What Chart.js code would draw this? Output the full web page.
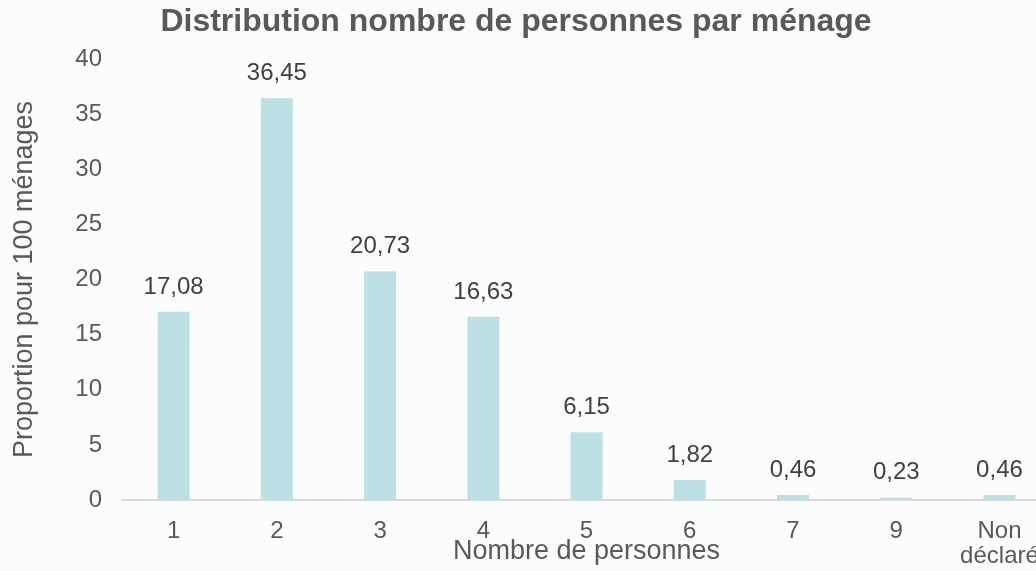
<!DOCTYPE html>
<html lang="fr">
<head>
<meta charset="utf-8">
<title>Distribution nombre de personnes par ménage</title>
<script src="https://cdn.jsdelivr.net/npm/chart.js@4/dist/chart.umd.min.js"></script>
<style>
  html, body { margin: 0; padding: 0; background: #fbfcfe; }
  #wrap { width: 1036px; height: 571px; overflow: hidden; position: relative; }
  #chart { display: block; }
</style>
</head>
<body>
<div id="wrap">
  <canvas id="chart" width="1058" height="571"></canvas>
</div>
<script>
// Data
const chartTitle = 'Distribution nombre de personnes par ménage';
const categories = ['1', '2', '3', '4', '5', '6', '7', '9', ['Non', 'déclaré']];
const proportions = [17.08, 36.45, 20.73, 16.63, 6.15, 1.82, 0.46, 0.23, 0.46];
const yTicks = [0, 5, 10, 15, 20, 25, 30, 35, 40];

const textColor = '#595959';
const labelColor = '#404040';
const barColor = '#bce0e3';
const fontFamily = '"Liberation Sans", Arial, sans-serif';

function formatValue(v) {
  return v.toFixed(2).replace('.', ',');
}

// Title centred on the visible window (canvas is wider so the last bar is cut like the original)
const titlePlugin = {
  id: 'pageTitle',
  afterDraw(chart) {
    const ctx = chart.ctx;
    ctx.save();
    ctx.font = 'bold 32px ' + fontFamily;
    ctx.fillStyle = textColor;
    ctx.textAlign = 'center';
    ctx.textBaseline = 'alphabetic';
    ctx.fillText(chartTitle, 516, 31);
    ctx.restore();
  }
};

// Value labels above each bar
const valueLabels = {
  id: 'valueLabels',
  afterDatasetsDraw(chart) {
    const ctx = chart.ctx;
    const meta = chart.getDatasetMeta(0);
    ctx.save();
    ctx.font = '24px ' + fontFamily;
    ctx.fillStyle = labelColor;
    ctx.textAlign = 'center';
    ctx.textBaseline = 'alphabetic';
    meta.data.forEach((bar, i) => {
      ctx.fillText(formatValue(proportions[i]), bar.x, bar.y - 18);
    });
    ctx.restore();
  }
};

const ctx = document.getElementById('chart').getContext('2d');
new Chart(ctx, {
  type: 'bar',
  data: {
    labels: categories,
    datasets: [{
      data: proportions,
      backgroundColor: barColor,
      borderWidth: 0,
      barPercentage: 0.62,
      categoryPercentage: 0.5
    }]
  },
  options: {
    responsive: false,
    animation: false,
    layout: {
      padding: { top: 59, right: 3, left: 0, bottom: 0 }
    },
    plugins: {
      legend: { display: false },
      tooltip: { enabled: false },
      title: { display: false }
    },
    scales: {
      x: {
        grid: { display: false, drawTicks: false },
        border: { display: true, color: '#d9d9d9', width: 2 },
        ticks: {
          color: textColor,
          padding: 19,
          maxRotation: 0,
          autoSkip: false,
          font: { family: fontFamily, size: 24, lineHeight: 1.05 }
        },
        title: {
          display: true,
          text: 'Nombre de personnes',
          color: textColor,
          padding: { top: 0, bottom: 3 },
          font: { family: fontFamily, size: 27 }
        },
        afterFit(scale) { scale.height = 71; }
      },
      y: {
        min: 0,
        max: 40,
        afterBuildTicks(scale) {
          scale.ticks = yTicks.map(v => ({ value: v }));
        },
        grid: { display: false, drawTicks: false },
        border: { display: false },
        ticks: {
          color: textColor,
          padding: 20,
          font: { family: fontFamily, size: 24 }
        },
        title: {
          display: true,
          text: 'Proportion pour 100 ménages',
          color: textColor,
          padding: { top: 8, bottom: 0 },
          font: { family: fontFamily, size: 27 }
        },
        afterFit(scale) { scale.width = 122; }
      }
    }
  },
  plugins: [titlePlugin, valueLabels]
});
</script>
</body>
</html>
